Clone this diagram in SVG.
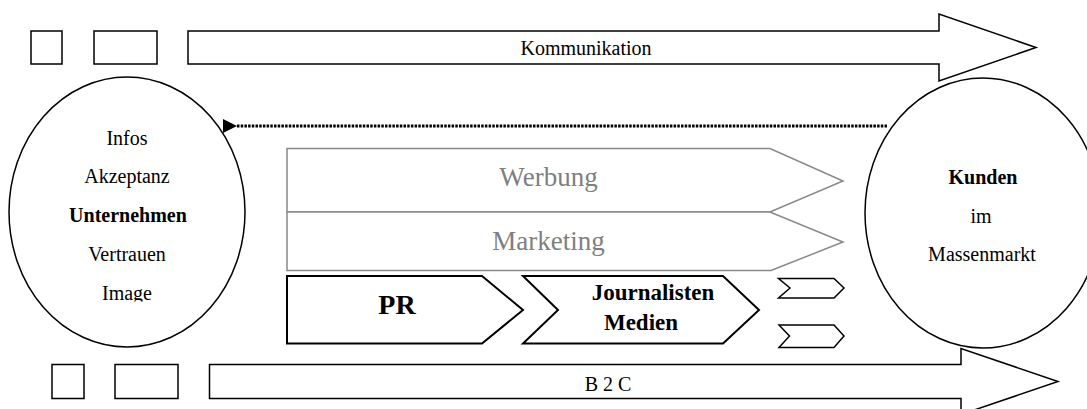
<svg xmlns="http://www.w3.org/2000/svg" width="1087" height="409" viewBox="0 0 1087 409">
  <style>
    .shape { fill: #fff; stroke: #000; stroke-width: 1.5; }
    .thick { fill: #fff; stroke: #000; stroke-width: 2; }
    .grey { fill: #fff; stroke: #888; stroke-width: 1.5; }
    text { font-family: "Liberation Serif", "DejaVu Serif", serif; fill: #000; text-anchor: middle; }
    .t20 { font-size: 20px; }
    .b { font-weight: bold; }
    .greytxt { font-size: 27px; fill: #7f7f7f; }
  </style>
  <defs>
    <marker id="head" viewBox="0 0 14 14" refX="1" refY="7" markerWidth="14" markerHeight="14" markerUnits="userSpaceOnUse" orient="auto">
      <path d="M14,0 L0,7 L14,14 Z" fill="#000"/>
    </marker>
    <clipPath id="leftText">
      <rect x="0" y="100" width="260" height="201.5"/>
    </clipPath>
  </defs>

  <!-- top band -->
  <g id="top-band">
    <rect class="shape" x="31" y="31" width="31" height="33"/>
    <rect class="shape" x="94" y="31" width="63" height="33"/>
    <path class="shape" d="M188,31 H939 V14 L1036,47.5 L939,81 V64 H188 Z"/>
    <text class="t20" x="586" y="55" font-family="Liberation Serif, serif">Kommunikation</text>
  </g>

  <!-- bottom band -->
  <g id="bottom-band">
    <rect class="shape" x="52" y="364.5" width="32" height="34"/>
    <rect class="shape" x="115" y="364.5" width="63" height="34"/>
    <path class="shape" d="M209.5,364.5 H961 V348.5 L1058,381.5 L961,414.5 V398.5 H209.5 Z"/>
    <text class="t20" x="608" y="391">B 2 C</text>
  </g>

  <!-- company -->
  <g id="unternehmen">
    <ellipse class="shape" cx="127" cy="212" rx="118" ry="135"/>
    <g clip-path="url(#leftText)">
      <text class="t20" x="127" y="145">Infos</text>
      <text class="t20" x="127" y="183">Akzeptanz</text>
      <text class="t20 b" x="128" y="222">Unternehmen</text>
      <text class="t20" x="127" y="261">Vertrauen</text>
      <text class="t20" x="127" y="300">Image</text>
    </g>
  </g>

  <!-- customers -->
  <g id="kunden">
    <ellipse class="shape" cx="983" cy="213" rx="118" ry="135"/>
    <text class="t20 b" x="983" y="184">Kunden</text>
    <text class="t20" x="981" y="223">im</text>
    <text class="t20" x="982" y="261">Massenmarkt</text>
  </g>

  <!-- advertising / marketing -->
  <g id="werbung">
    <path class="grey" d="M287,148.5 H770 L843,181 L770,212 H287 Z"/>
    <text class="greytxt" x="548.5" y="186">Werbung</text>
  </g>
  <g id="marketing">
    <path class="grey" d="M287,212 H770 L843,242 L771,270.5 H287 Z"/>
    <text class="greytxt" x="548.5" y="250">Marketing</text>
  </g>

  <!-- PR chain -->
  <g id="pr">
    <path class="thick" d="M287,276 H482 L523,310 L482,343.5 H287 Z"/>
    <text class="b" x="397" y="314" font-size="28">PR</text>
  </g>
  <g id="journalisten">
    <path class="thick" d="M523,276 H723 L759,310 L723,343.5 H523 L558,310 Z"/>
    <text class="b" x="653" y="300" font-size="23">Journalisten</text>
    <text class="b" x="641" y="330" font-size="23">Medien</text>
  </g>
  <g id="chevron-1">
    <path class="shape" d="M778.5,278.5 H834 L844,288 L834,298 H778.5 L790,288 Z"/>
  </g>
  <g id="chevron-2">
    <path class="shape" d="M779,325 H834 L844,336 L834,347.5 H779 L789.5,336 Z"/>
  </g>

  <!-- feedback connector -->
  <g id="connectors">
    <line x1="887" y1="126" x2="236" y2="126" stroke="#000" stroke-width="3" stroke-dasharray="2.5 1.2" marker-end="url(#head)"/>
  </g>
</svg>
